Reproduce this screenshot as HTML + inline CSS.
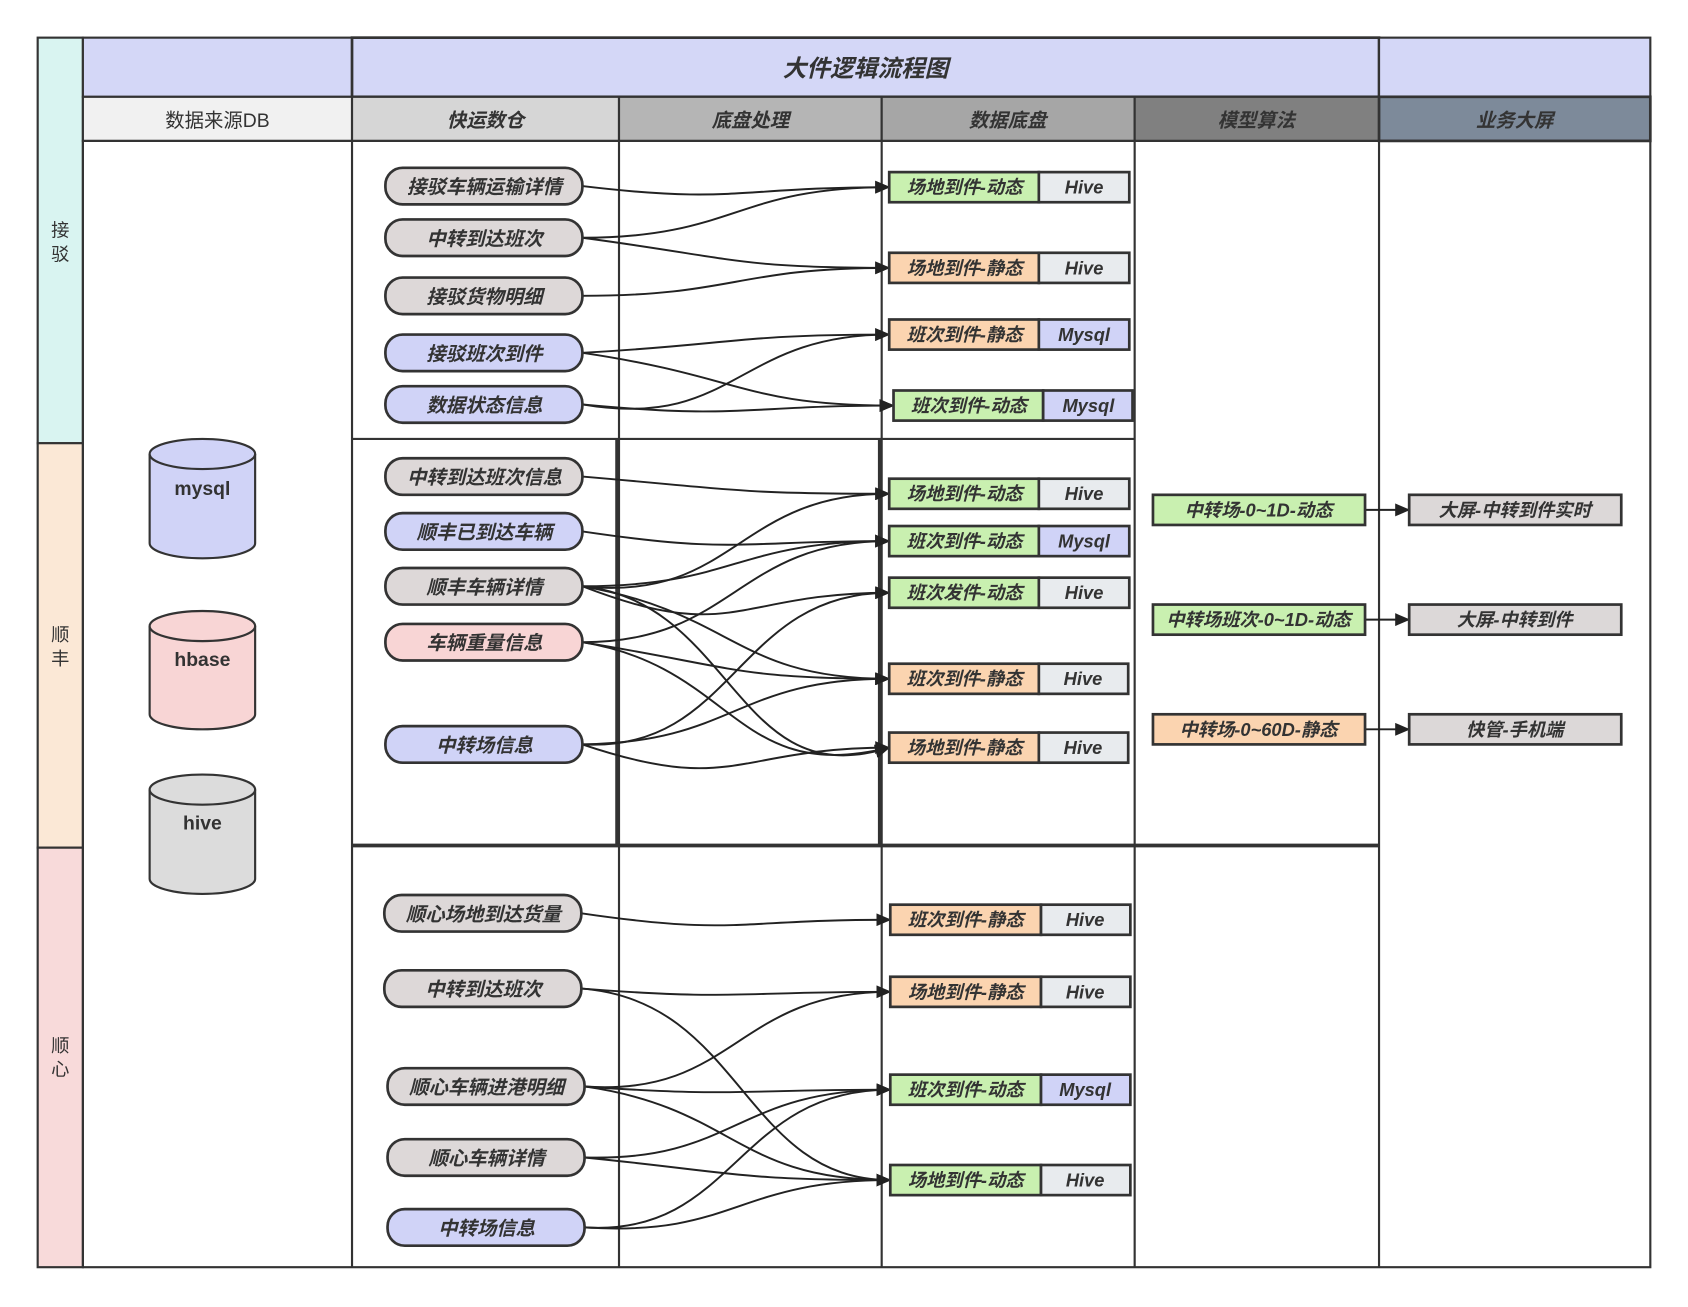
<!DOCTYPE html>
<html><head><meta charset="utf-8"><style>
html,body{margin:0;padding:0;background:#fff;}
svg{display:block;}
text{font-family:"Liberation Sans","Noto Sans CJK SC",sans-serif;}
.b{font-weight:bold;font-style:italic;font-size:18px;fill:#333;}
.n{font-size:17px;fill:#333;}
</style></head><body>
<svg width="1688" height="1307" viewBox="0 0 1568 1215" preserveAspectRatio="none" xmlns="http://www.w3.org/2000/svg">
<defs><marker id="a" markerWidth="14" markerHeight="12" refX="13" refY="6" orient="auto" markerUnits="userSpaceOnUse"><path d="M0,0 L14,6 L0,12 Z" fill="#222"/></marker></defs>
<rect x="35" y="35" width="42" height="377" fill="#d9f4f1" stroke="#333" stroke-width="2"/>
<rect x="35" y="412" width="42" height="376" fill="#fbe8d6" stroke="#333" stroke-width="2"/>
<rect x="35" y="788" width="42" height="390" fill="#f8dada" stroke="#333" stroke-width="2"/>
<text class="n" x="56" y="220" text-anchor="middle">接</text><text class="n" x="56" y="242" text-anchor="middle">驳</text>
<text class="n" x="56" y="596" text-anchor="middle">顺</text><text class="n" x="56" y="618" text-anchor="middle">丰</text>
<text class="n" x="56" y="978" text-anchor="middle">顺</text><text class="n" x="56" y="1000" text-anchor="middle">心</text>
<rect x="77" y="35" width="250" height="55" fill="#d4d7f7" stroke="#333" stroke-width="2"/>
<rect x="327" y="35" width="954" height="55" fill="#d4d7f7" stroke="#333" stroke-width="2.5"/>
<rect x="1281" y="35" width="252" height="55" fill="#d4d7f7" stroke="#333" stroke-width="2"/>
<text class="b" x="804" y="71" text-anchor="middle" style="font-size:22px">大件逻辑流程图</text>
<rect x="77" y="90" width="250" height="41" fill="#f1f1f1" stroke="#333" stroke-width="2"/>
<rect x="327" y="90" width="248" height="41" fill="#d6d6d6" stroke="#333" stroke-width="2"/>
<rect x="575" y="90" width="244" height="41" fill="#b5b5b5" stroke="#333" stroke-width="2"/>
<rect x="819" y="90" width="235" height="41" fill="#a6a6a6" stroke="#333" stroke-width="2"/>
<rect x="1054" y="90" width="227" height="41" fill="#808080" stroke="#333" stroke-width="2"/>
<rect x="1281" y="90" width="252" height="41" fill="#7d8a9a" stroke="#333" stroke-width="2.5"/>
<text class="n" x="202" y="118" text-anchor="middle" style="font-size:18px">数据来源DB</text>
<text class="b" x="451" y="118" text-anchor="middle">快运数仓</text>
<text class="b" x="697" y="118" text-anchor="middle">底盘处理</text>
<text class="b" x="936" y="118" text-anchor="middle">数据底盘</text>
<text class="b" x="1167" y="118" text-anchor="middle">模型算法</text>
<text class="b" x="1407" y="118" text-anchor="middle">业务大屏</text>
<g fill="none" stroke="#333" stroke-width="2">
<rect x="77" y="131" width="1456" height="1047"/>
<line x1="327" y1="131" x2="327" y2="1178"/>
<line x1="575" y1="131" x2="575" y2="1178"/>
<line x1="819" y1="131" x2="819" y2="1178"/>
<line x1="1054" y1="131" x2="1054" y2="1178"/>
<line x1="1281" y1="131" x2="1281" y2="1178"/>
<line x1="327" y1="408" x2="1054" y2="408"/>
<line x1="573" y1="408" x2="573" y2="786" stroke-width="3"/>
<line x1="817" y1="408" x2="817" y2="786" stroke-width="3"/>
<line x1="327" y1="786" x2="1281" y2="786" stroke-width="3.5"/>
</g>
<g stroke="#333" stroke-width="2">
<path d="M139,422 V505 A49,14 0 0 0 237,505 V422" fill="#d0d3f7"/><ellipse cx="188" cy="422" rx="49" ry="14" fill="#d0d3f7"/>
<path d="M139,582 V664 A49,14 0 0 0 237,664 V582" fill="#f8d5d5"/><ellipse cx="188" cy="582" rx="49" ry="14" fill="#f8d5d5"/>
<path d="M139,734 V817 A49,14 0 0 0 237,817 V734" fill="#dcdcdc"/><ellipse cx="188" cy="734" rx="49" ry="14" fill="#dcdcdc"/>
</g>
<text x="188" y="460" text-anchor="middle" style="font-weight:bold;font-size:18px;fill:#333">mysql</text>
<text x="188" y="619" text-anchor="middle" style="font-weight:bold;font-size:18px;fill:#333">hbase</text>
<text x="188" y="771" text-anchor="middle" style="font-weight:bold;font-size:18px;fill:#333">hive</text>
<g fill="none" stroke="#222" stroke-width="1.8" marker-end="url(#a)">
<path d="M541,173 C683,190 683,174 826,174"/>
<path d="M541,221 C683,221 683,174 826,174"/>
<path d="M541,221 C683,240 683,249 826,249"/>
<path d="M541,275 C683,275 683,249 826,249"/>
<path d="M541,328 C683,320 683,311 826,311"/>
<path d="M541,328 C690,350 690,377 830,377"/>
<path d="M541,376 C683,400 683,311 826,311"/>
<path d="M541,376 C690,390 690,377 830,377"/>
<path d="M541,443 C683,455 683,459 826,459"/>
<path d="M541,494 C683,515 683,503 826,503"/>
<path d="M541,545 C683,560 683,459 826,459"/>
<path d="M541,545 C683,545 683,503 826,503"/>
<path d="M541,545 C683,600 683,551 826,551"/>
<path d="M541,545 C683,570 683,631 826,631"/>
<path d="M541,545 C683,560 683,740 826,695"/>
<path d="M541,597 C683,597 683,503 826,503"/>
<path d="M541,597 C683,620 683,631 826,631"/>
<path d="M541,597 C683,620 683,730 826,695"/>
<path d="M541,692 C683,700 683,551 826,551"/>
<path d="M541,692 C683,690 683,631 826,631"/>
<path d="M541,692 C683,740 683,695 826,695"/>
<path d="M540,849 C683,870 683,855 827,855"/>
<path d="M540,919 C683,930 683,922 827,922"/>
<path d="M540,919 C690,930 690,1097 827,1097"/>
<path d="M543,1010 C683,1020 683,922 827,922"/>
<path d="M543,1010 C683,1020 683,1013 827,1013"/>
<path d="M543,1010 C683,1030 683,1097 827,1097"/>
<path d="M543,1076 C683,1080 683,1013 827,1013"/>
<path d="M543,1076 C683,1090 683,1097 827,1097"/>
<path d="M543,1141 C683,1150 683,1013 827,1013"/>
<path d="M543,1141 C683,1150 683,1097 827,1097"/>
<path d="M1268,474 H1309"/><path d="M1268,576 H1309"/><path d="M1268,678 H1309"/>
</g>
<g stroke="#333" stroke-width="2.5">
<rect x="358" y="156" width="183" height="34" rx="16" fill="#ddd8d8"/>
<rect x="358" y="204" width="183" height="34" rx="16" fill="#ddd8d8"/>
<rect x="358" y="258" width="183" height="34" rx="16" fill="#ddd8d8"/>
<rect x="358" y="311" width="183" height="34" rx="16" fill="#d0d3f7"/>
<rect x="358" y="359" width="183" height="34" rx="16" fill="#d0d3f7"/>
<rect x="358" y="426" width="183" height="34" rx="16" fill="#ddd8d8"/>
<rect x="358" y="477" width="183" height="34" rx="16" fill="#d0d3f7"/>
<rect x="358" y="528" width="183" height="34" rx="16" fill="#ddd8d8"/>
<rect x="358" y="580" width="183" height="34" rx="16" fill="#f8d5d5"/>
<rect x="358" y="675" width="183" height="34" rx="16" fill="#d0d3f7"/>
<rect x="357" y="832" width="183" height="34" rx="16" fill="#ddd8d8"/>
<rect x="357" y="902" width="183" height="34" rx="16" fill="#ddd8d8"/>
<rect x="360" y="993" width="183" height="34" rx="16" fill="#ddd8d8"/>
<rect x="360" y="1059" width="183" height="34" rx="16" fill="#ddd8d8"/>
<rect x="360" y="1124" width="183" height="34" rx="16" fill="#d0d3f7"/>
</g>
<g text-anchor="middle">
<text class="b" x="450" y="180">接驳车辆运输详情</text>
<text class="b" x="450" y="228">中转到达班次</text>
<text class="b" x="450" y="282">接驳货物明细</text>
<text class="b" x="450" y="335">接驳班次到件</text>
<text class="b" x="450" y="383">数据状态信息</text>
<text class="b" x="450" y="450">中转到达班次信息</text>
<text class="b" x="450" y="501">顺丰已到达车辆</text>
<text class="b" x="450" y="552">顺丰车辆详情</text>
<text class="b" x="450" y="604">车辆重量信息</text>
<text class="b" x="450" y="699">中转场信息</text>
<text class="b" x="449" y="856">顺心场地到达货量</text>
<text class="b" x="449" y="926">中转到达班次</text>
<text class="b" x="452" y="1017">顺心车辆进港明细</text>
<text class="b" x="452" y="1083">顺心车辆详情</text>
<text class="b" x="452" y="1148">中转场信息</text>
</g>
<g stroke="#333" stroke-width="2.5">
<rect x="826" y="160" width="139" height="28" fill="#c9f0b0"/><rect x="965" y="160" width="84" height="28" fill="#e8ebee"/>
<rect x="826" y="235" width="139" height="28" fill="#fbd4b0"/><rect x="965" y="235" width="84" height="28" fill="#e8ebee"/>
<rect x="826" y="297" width="139" height="28" fill="#fbd4b0"/><rect x="965" y="297" width="84" height="28" fill="#d0d3f7"/>
<rect x="830" y="363" width="139" height="28" fill="#c9f0b0"/><rect x="969" y="363" width="83" height="28" fill="#d0d3f7"/>
<rect x="826" y="445" width="139" height="28" fill="#c9f0b0"/><rect x="965" y="445" width="84" height="28" fill="#e8ebee"/>
<rect x="826" y="489" width="139" height="28" fill="#c9f0b0"/><rect x="965" y="489" width="84" height="28" fill="#d0d3f7"/>
<rect x="826" y="537" width="139" height="28" fill="#c9f0b0"/><rect x="965" y="537" width="84" height="28" fill="#e8ebee"/>
<rect x="826" y="617" width="139" height="28" fill="#fbd4b0"/><rect x="965" y="617" width="83" height="28" fill="#e8ebee"/>
<rect x="826" y="681" width="139" height="28" fill="#fbd4b0"/><rect x="965" y="681" width="83" height="28" fill="#e8ebee"/>
<rect x="827" y="841" width="140" height="28" fill="#fbd4b0"/><rect x="967" y="841" width="83" height="28" fill="#e8ebee"/>
<rect x="827" y="908" width="140" height="28" fill="#fbd4b0"/><rect x="967" y="908" width="83" height="28" fill="#e8ebee"/>
<rect x="827" y="999" width="140" height="28" fill="#c9f0b0"/><rect x="967" y="999" width="83" height="28" fill="#d0d3f7"/>
<rect x="827" y="1083" width="140" height="28" fill="#c9f0b0"/><rect x="967" y="1083" width="83" height="28" fill="#e8ebee"/>
<rect x="1071" y="460" width="197" height="28" fill="#c9f0b0"/>
<rect x="1071" y="562" width="197" height="28" fill="#c9f0b0"/>
<rect x="1071" y="664" width="197" height="28" fill="#fbd4b0"/>
<rect x="1309" y="460" width="197" height="28" fill="#dcd8d8"/>
<rect x="1309" y="562" width="197" height="28" fill="#dcd8d8"/>
<rect x="1309" y="664" width="197" height="28" fill="#dcd8d8"/>
</g>
<g text-anchor="middle">
<text class="b" x="896" y="180" style="font-size:17px">场地到件-动态</text><text class="b" x="1007" y="180" style="font-size:17px">Hive</text>
<text class="b" x="896" y="255" style="font-size:17px">场地到件-静态</text><text class="b" x="1007" y="255" style="font-size:17px">Hive</text>
<text class="b" x="896" y="317" style="font-size:17px">班次到件-静态</text><text class="b" x="1007" y="317" style="font-size:17px">Mysql</text>
<text class="b" x="900" y="383" style="font-size:17px">班次到件-动态</text><text class="b" x="1011" y="383" style="font-size:17px">Mysql</text>
<text class="b" x="896" y="465" style="font-size:17px">场地到件-动态</text><text class="b" x="1007" y="465" style="font-size:17px">Hive</text>
<text class="b" x="896" y="509" style="font-size:17px">班次到件-动态</text><text class="b" x="1007" y="509" style="font-size:17px">Mysql</text>
<text class="b" x="896" y="557" style="font-size:17px">班次发件-动态</text><text class="b" x="1007" y="557" style="font-size:17px">Hive</text>
<text class="b" x="896" y="637" style="font-size:17px">班次到件-静态</text><text class="b" x="1006" y="637" style="font-size:17px">Hive</text>
<text class="b" x="896" y="701" style="font-size:17px">场地到件-静态</text><text class="b" x="1006" y="701" style="font-size:17px">Hive</text>
<text class="b" x="897" y="861" style="font-size:17px">班次到件-静态</text><text class="b" x="1008" y="861" style="font-size:17px">Hive</text>
<text class="b" x="897" y="928" style="font-size:17px">场地到件-静态</text><text class="b" x="1008" y="928" style="font-size:17px">Hive</text>
<text class="b" x="897" y="1019" style="font-size:17px">班次到件-动态</text><text class="b" x="1008" y="1019" style="font-size:17px">Mysql</text>
<text class="b" x="897" y="1103" style="font-size:17px">场地到件-动态</text><text class="b" x="1008" y="1103" style="font-size:17px">Hive</text>
<text class="b" x="1169" y="480" style="font-size:17px">中转场-0~1D-动态</text>
<text class="b" x="1169" y="582" style="font-size:17px">中转场班次-0~1D-动态</text>
<text class="b" x="1169" y="684" style="font-size:17px">中转场-0~60D-静态</text>
<text class="b" x="1407" y="480" style="font-size:17px">大屏-中转到件实时</text>
<text class="b" x="1407" y="582" style="font-size:17px">大屏-中转到件</text>
<text class="b" x="1407" y="684" style="font-size:17px">快管-手机端</text>
</g>
</svg>
</body></html>
